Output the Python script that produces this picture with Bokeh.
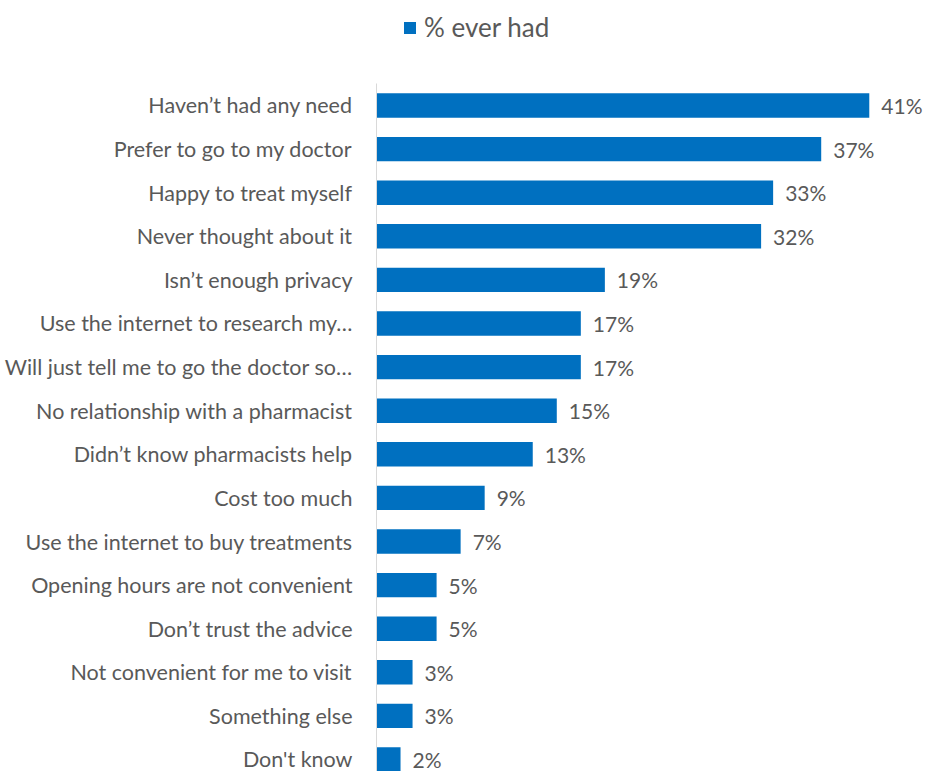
from bokeh.plotting import figure
from bokeh.models import (ColumnDataSource, Range1d, FixedTicker, LabelSet,
                          Legend, LegendItem)
from bokeh.core.properties import value
from bokeh.embed import file_html
from bokeh.resources import INLINE

categories = [
    "Haven\u2019t had any need",
    "Prefer to go to my doctor",
    "Happy to treat myself",
    "Never thought about it",
    "Isn\u2019t enough privacy",
    "Use the internet to research my\u2026",
    "Will just tell me to go the doctor so\u2026",
    "No relationship with a pharmacist",
    "Didn\u2019t know pharmacists help",
    "Cost too much",
    "Use the internet to buy treatments",
    "Opening hours are not convenient",
    "Don\u2019t trust the advice",
    "Not convenient for me to visit",
    "Something else",
    "Don't know",
]
values = [41, 37, 33, 32, 19, 17, 17, 15, 13, 9, 7, 5, 5, 3, 3, 2]
series_name = "% ever had"

FONT = "Lato"
TEXT = "#595959"
BAR = "#0070C0"

pos = list(range(len(categories)))
src = ColumnDataSource(dict(
    y=pos,
    v=values,
    lab=[f"{v}%" for v in values],
))

p = figure(width=926, height=771, output_backend="svg", toolbar_location=None,
           x_range=Range1d(0, 45.76), y_range=Range1d(15.275, -2.408),
           min_border_left=376, min_border_right=0, min_border_top=0,
           min_border_bottom=0)
p.outline_line_color = None
p.grid.visible = False
p.xaxis.visible = False

r = p.hbar(y="y", right="v", left=0, height=0.56, source=src,
           fill_color=BAR, line_color=None)

yax = p.yaxis[0]
yax.ticker = FixedTicker(ticks=pos)
yax.bounds = (-0.505, 15.275)
yax.major_label_overrides = {i: c for i, c in enumerate(categories)}
yax.major_tick_line_color = None
yax.minor_tick_line_color = None
yax.major_tick_out = 0
yax.major_tick_in = 0
yax.axis_line_color = "#d9d9d9"
yax.axis_line_width = 1
yax.major_label_standoff = 24
yax.major_label_text_font = FONT
yax.major_label_text_font_size = "21.5px"
yax.major_label_text_color = TEXT

labels = LabelSet(x="v", y="y", text="lab", source=src, x_offset=12,
                  text_baseline="middle", text_align="left",
                  text_font=value(FONT), text_font_size=value("21px"),
                  text_color=value(TEXT))
p.add_layout(labels)

legend = Legend(items=[LegendItem(label=series_name, renderers=[r])],
                location=(26, 728), orientation="horizontal",
                glyph_width=15, glyph_height=15, label_text_font=FONT,
                label_text_font_size="26px", label_text_color=TEXT,
                border_line_color=None, background_fill_alpha=0,
                label_standoff=7, padding=4, margin=0)
p.add_layout(legend, "center")

open("out.html", "w").write(file_html(p, INLINE))
